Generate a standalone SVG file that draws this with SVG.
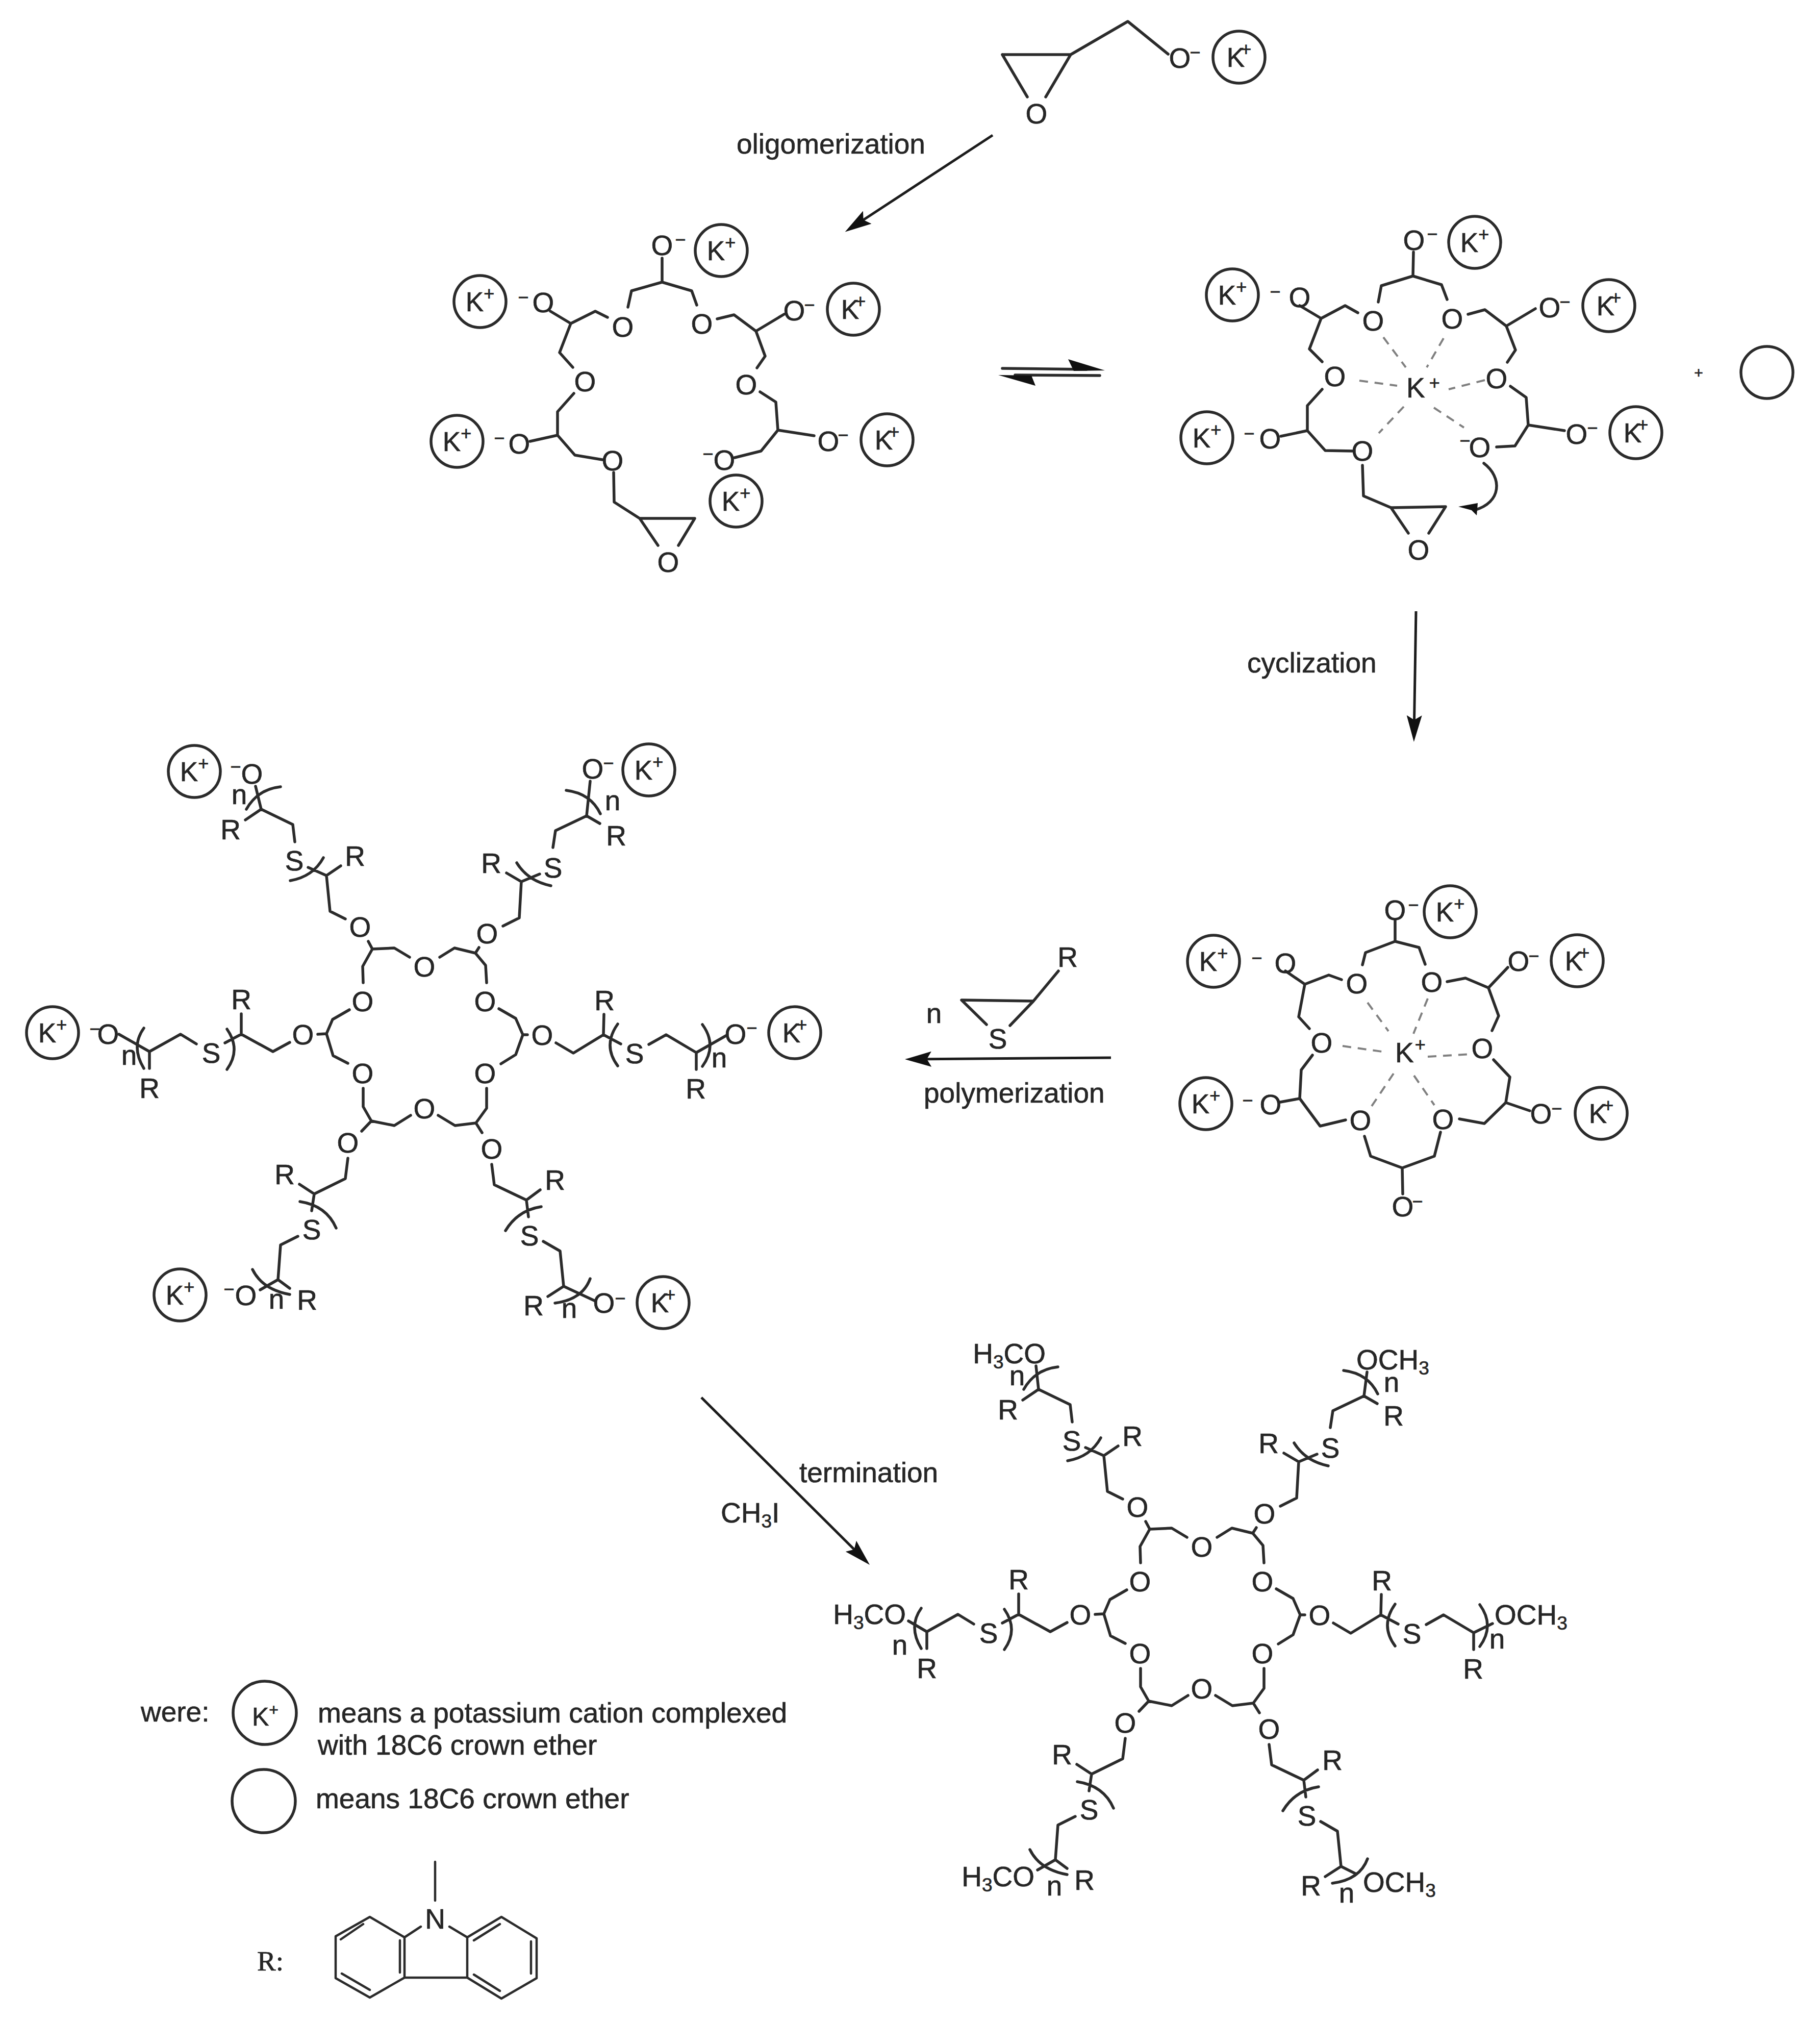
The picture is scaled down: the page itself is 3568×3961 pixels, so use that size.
<svg xmlns="http://www.w3.org/2000/svg" xmlns:xlink="http://www.w3.org/1999/xlink" width="3568" height="3961" viewBox="0 0 3568 3961">
<style>
text{font-family:"Liberation Sans",Arial,sans-serif;fill:#262626;stroke:#262626;stroke-width:.7}
.a{font-size:55px;text-anchor:middle}
.l{font-size:55px}
.e{font-size:55px;text-anchor:end}
.m{font-size:36px;text-anchor:middle}
.k{font-size:53px;text-anchor:middle}
.p{font-size:36px}
.s{font-size:37px}
.b{fill:none;stroke:#2b2b2b;stroke-width:5.5;stroke-linejoin:round;stroke-linecap:round}
.c{fill:none;stroke:#2b2b2b;stroke-width:5.5}
.d{fill:none;stroke:#808080;stroke-width:4;stroke-dasharray:17 13}
.ar{fill:none;stroke:#1c1c1c;stroke-width:5;marker-end:url(#ah)}
.h{fill:#111;stroke:none}
.r{font-family:"Liberation Serif","Times New Roman",serif;font-size:55px}
</style>
<defs>
<marker id="ah" markerUnits="userSpaceOnUse" viewBox="0 -15 54 30" refX="42" refY="0" markerWidth="54" markerHeight="30" orient="auto"><path class="h" d="M0,-15 L52,0 L0,15 L9,0Z"/></marker>
<path id="skel" class="b" d="M481,1607 L512,1586 L574,1616 L578,1650 M604,1700 L640,1716 L668,1697 M640,1716 L647,1786 L677,1801 M722,1845 L730,1860 L773,1858 L803,1876 M862,1876 L891,1858 L932,1868 L952,1892 L954,1926 M730,1860 L711,1894 L712,1926 M932,1868 L939,1857 M986,1815 L1018,1799 L1022,1728 L993,1711 M1022,1728 L1058,1713 M1084,1661 L1089,1628 L1150,1599 L1176,1614 M293,2094 L293,2061 L354,2027 L385,2046 M441,2044 L473,2027 L535,2061 L568,2043 M473,2027 L473,1987 M623,2027 L640,2026 M685,1979 L652,1998 L640,2026 L653,2069 L682,2084 M712,2133 L712,2169 L728,2197 L773,2206 L805,2186 M859,2186 L892,2206 L933,2201 L954,2172 L954,2133 M728,2197 L709,2217 M978,1977 L1011,1996 L1025,2028 L1011,2067 L982,2085 M1025,2028 L1034,2028 M1090,2044 L1124,2064 L1183,2028 L1184,1988 M1183,2028 L1217,2046 M1272,2047 L1306,2028 L1365,2063 L1365,2096 M682,2270 L677,2310 L616,2340 L587,2321 M616,2340 L611,2373 M584,2423 L550,2440 L545,2508 L568,2525 M545,2508 L510,2528 M933,2201 L945,2220 M964,2282 L969,2322 L1032,2352 L1059,2332 M1032,2352 L1036,2385 M1065,2433 L1098,2452 L1105,2521 L1074,2541 M550,1542 Q505,1547 483,1586 M569,1726 Q614,1718 634,1681 M1013,1691 Q1035,1727 1080,1736 M1110,1549 Q1158,1555 1177,1595 M282,2015 Q256,2051 282,2094 M445,2017 Q473,2057 445,2096 M1211,2007 Q1181,2049 1211,2089 M1377,2008 Q1407,2049 1377,2090 M588,2355 Q640,2363 659,2407 M495,2488 Q514,2527 568,2537 M1061,2365 Q1015,2372 991,2412 M1157,2506 Q1142,2547 1088,2554"/>
</defs>
<rect width="3568" height="3961" fill="#fff"/>

<g id="connectors">
<path class="ar" d="M1946,265 L1665,449"/>
<path class="ar" d="M2776,1198 L2772,1444"/>
<path class="ar" d="M2178,2073 L1784,2076"/>
<path class="ar" d="M1375,2739 L1698,3060"/>
<path class="b" d="M1965,722 L2130,724 M2156,736 L1990,735"/>
<path class="h" d="M2094,704 L2166,726 L2105,727Z M1957,735 L2030,756 L2022,736Z"/>
<path class="b" d="M2909,908 C2945,935 2945,985 2890,1000"/>
<path class="h" d="M2859,993 L2897,986 L2895,1010 L2885,1000Z"/>
</g>

<g id="monomer">
<path class="b" d="M1965,107 L2099,107 L2050,190 M1965,107 L2014,190 M2099,107 L2211,42 L2290,106"/>
<text class="a" x="2032" y="242">O</text>
<text class="a" x="2313" y="133">O</text><text class="m" x="2343" y="115">−</text>
<circle class="c" cx="2429" cy="112" r="51"/><text class="k" x="2429" y="131">K<tspan class="p" dx="-8" dy="-22">+</tspan></text>
</g>

<g id="label-oligomerization"><text class="l" x="1444" y="301">oligomerization</text></g>

<g id="open-chain">
<path class="b" d="M1298,506 L1298,553 L1238,570 L1231,602 M1298,553 L1356,570 L1366,598 M1079,610 L1119,634 L1167,610 L1191,622 M1119,634 L1097,691 L1123,720 M1125,771 L1093,807 L1093,853 L1039,865 M1093,853 L1127,892 L1181,901 M1203,926 L1204,984 L1254,1016 L1362,1016 L1330,1069 M1254,1016 L1290,1069 M1406,625 L1439,617 L1482,649 L1537,616 M1482,649 L1500,698 L1484,721 M1490,768 L1521,788 L1525,843 L1596,854 M1525,843 L1492,884 L1440,897"/>
<text class="a" x="1298" y="500">O</text><text class="m" x="1334" y="482">−</text>
<circle class="c" cx="1414" cy="491" r="51"/><text class="k" x="1414" y="510">K<tspan class="p" dy="-22">+</tspan></text>
<text class="a" x="1221" y="660">O</text><text class="a" x="1376" y="654">O</text>
<circle class="c" cx="941" cy="591" r="51"/><text class="k" x="941" y="610">K<tspan class="p" dy="-22">+</tspan></text>
<text class="m" x="1026" y="595">−</text><text class="a" x="1065" y="612">O</text>
<text class="a" x="1147" y="767">O</text>
<text class="a" x="1018" y="889">O</text><text class="m" x="979" y="871">−</text>
<circle class="c" cx="896" cy="865" r="51"/><text class="k" x="896" y="884">K<tspan class="p" dy="-22">+</tspan></text>
<text class="a" x="1201" y="922">O</text>
<text class="a" x="1310" y="1121">O</text>
<text class="a" x="1557" y="628">O</text><text class="m" x="1587" y="610">−</text>
<circle class="c" cx="1673" cy="606" r="51"/><text class="k" x="1673" y="625">K<tspan class="p" dx="-8" dy="-22">+</tspan></text>
<text class="a" x="1463" y="773">O</text>
<text class="a" x="1624" y="884">O</text><text class="m" x="1653" y="865">−</text>
<circle class="c" cx="1739" cy="862" r="51"/><text class="k" x="1739" y="881">K<tspan class="p" dx="-8" dy="-22">+</tspan></text>
<text class="a" x="1420" y="921">O</text><text class="m" x="1388" y="902">−</text>
<circle class="c" cx="1443" cy="982" r="51"/><text class="k" x="1443" y="1001">K<tspan class="p" dy="-22">+</tspan></text>
</g>

<g id="complex-open">
<path class="b" d="M2771,494 L2770,541 L2708,560 L2702,592 M2770,541 L2826,558 L2837,587 M2548,599 L2590,624 L2637,599 L2662,613 M2590,624 L2567,684 L2592,709 M2592,763 L2563,795 L2563,844 L2511,855 M2563,844 L2598,883 L2652,884 M2671,912 L2673,972 L2727,995 L2834,993 L2801,1045 M2727,995 L2761,1045 M2878,616 L2911,607 L2953,639 L3010,605 M2953,639 L2971,686 L2955,710 M2961,757 L2992,779 L2996,833 L3067,844 M2996,833 L2970,874 L2934,876"/>
<path class="d" d="M2712,661 L2756,720 M2830,663 L2797,720 M2665,746 L2739,756 M2911,745 L2840,763 M2752,797 L2703,849 M2811,799 L2870,838"/>
<text class="a" x="2772" y="490">O</text><text class="m" x="2808" y="471">−</text>
<circle class="c" cx="2891" cy="475" r="51"/><text class="k" x="2891" y="494">K<tspan class="p" dy="-22">+</tspan></text>
<text class="a" x="2692" y="648">O</text><text class="a" x="2847" y="644">O</text>
<circle class="c" cx="2416" cy="578" r="51"/><text class="k" x="2416" y="597">K<tspan class="p" dy="-22">+</tspan></text>
<text class="m" x="2500" y="584">−</text><text class="a" x="2548" y="602">O</text>
<text class="a" x="2617" y="757">O</text>
<text class="a" x="2490" y="879">O</text><text class="m" x="2449" y="862">−</text>
<circle class="c" cx="2366" cy="858" r="51"/><text class="k" x="2366" y="877">K<tspan class="p" dy="-22">+</tspan></text>
<text class="a" x="2671" y="903">O</text>
<text class="a" x="2781" y="1097">O</text>
<text class="a" x="3038" y="622">O</text><text class="m" x="3068" y="604">−</text>
<circle class="c" cx="3154" cy="599" r="51"/><text class="k" x="3154" y="618">K<tspan class="p" dx="-8" dy="-22">+</tspan></text>
<text class="a" x="2934" y="761">O</text>
<text class="a" x="3091" y="870">O</text><text class="m" x="3122" y="851">−</text>
<circle class="c" cx="3207" cy="848" r="51"/><text class="k" x="3207" y="867">K<tspan class="p" dx="-8" dy="-22">+</tspan></text>
<text class="a" x="2901" y="896">O</text><text class="m" x="2872" y="876">−</text>
<text class="l" x="2757" y="779">K<tspan class="p" dx="8" dy="-16">+</tspan></text>
</g>

<g id="crown-ether"><text x="3330" y="741" font-size="30" text-anchor="middle">+</text><circle class="c" cx="3464" cy="730" r="51"/></g>
<g id="label-cyclization"><text class="l" x="2445" y="1318">cyclization</text></g>

<g id="complex-cyclic">
<path class="b" d="M2735,1804 L2735,1845 L2677,1867 L2671,1891 M2735,1845 L2782,1857 L2794,1890 M2520,1903 L2558,1929 L2605,1911 L2630,1920 M2558,1929 L2546,1993 L2567,2016 M2573,2068 L2551,2097 L2548,2153 L2510,2160 M2548,2153 L2588,2207 L2638,2195 M2675,2227 L2687,2266 L2749,2289 L2812,2266 L2824,2219 M2749,2289 L2750,2340 M2837,1924 L2873,1917 L2918,1936 L2956,1896 M2918,1936 L2938,1991 L2925,2020 M2928,2077 L2960,2111 L2952,2161 L2999,2177 M2952,2161 L2910,2202 L2861,2193"/>
<path class="d" d="M2681,1965 L2722,2021 M2799,1957 L2771,2026 M2632,2050 L2709,2061 M2799,2071 L2883,2066 M2732,2104 L2689,2168 M2772,2108 L2812,2166"/>
<text class="a" x="2735" y="1803">O</text><text class="m" x="2771" y="1786">−</text>
<circle class="c" cx="2843" cy="1787" r="51"/><text class="k" x="2843" y="1806">K<tspan class="p" dy="-22">+</tspan></text>
<text class="a" x="2660" y="1947">O</text><text class="a" x="2807" y="1944">O</text>
<circle class="c" cx="2379" cy="1884" r="51"/><text class="k" x="2379" y="1903">K<tspan class="p" dy="-22">+</tspan></text>
<text class="m" x="2464" y="1890">−</text><text class="a" x="2520" y="1907">O</text>
<text class="a" x="2591" y="2063">O</text>
<text class="a" x="2491" y="2184">O</text><text class="m" x="2446" y="2169">−</text>
<circle class="c" cx="2364" cy="2163" r="51"/><text class="k" x="2364" y="2182">K<tspan class="p" dy="-22">+</tspan></text>
<text class="a" x="2667" y="2215">O</text><text class="a" x="2829" y="2213">O</text>
<text class="a" x="2750" y="2384">O</text><text class="m" x="2779" y="2367">−</text>
<text class="a" x="2977" y="1903">O</text><text class="m" x="3007" y="1886">−</text>
<circle class="c" cx="3092" cy="1883" r="51"/><text class="k" x="3092" y="1902">K<tspan class="p" dx="-8" dy="-22">+</tspan></text>
<text class="a" x="2906" y="2074">O</text>
<text class="a" x="3021" y="2202">O</text><text class="m" x="3052" y="2185">−</text>
<circle class="c" cx="3139" cy="2182" r="51"/><text class="k" x="3139" y="2201">K<tspan class="p" dx="-8" dy="-22">+</tspan></text>
<text class="l" x="2735" y="2082">K<tspan class="p" dx="2" dy="-22">+</tspan></text>
</g>

<g id="thiirane-reagent">
<path class="b" d="M1934,2008 L1885,1960 L2026,1962 L1980,2010 M2026,1962 L2075,1903"/>
<text class="a" x="1956" y="2055">S</text><text class="a" x="2093" y="1895">R</text><text class="a" x="1831" y="2005">n</text>
</g>
<g id="label-polymerization"><text class="l" x="1811" y="2161">polymerization</text></g>

<g id="polymer">
<use href="#skel" xlink:href="#skel"/>
<path class="b" d="M512,1586 L501,1541 M293,2061 L233,2027 M1365,2063 L1423,2030 M1150,1599 L1157,1531 M1105,2521 L1165,2549"/>
<g class="atoms">
<text class="a" x="706" y="1836">O</text><text class="a" x="955" y="1849">O</text><text class="a" x="832" y="1914">O</text><text class="a" x="711" y="1982">O</text><text class="a" x="951" y="1982">O</text><text class="a" x="594" y="2047">O</text><text class="a" x="1063" y="2048">O</text><text class="a" x="711" y="2123">O</text><text class="a" x="951" y="2123">O</text><text class="a" x="832" y="2192">O</text><text class="a" x="682" y="2259">O</text><text class="a" x="964" y="2271">O</text>
<text class="a" x="577" y="1706">S</text><text class="a" x="1084" y="1720">S</text><text class="a" x="414" y="2083">S</text><text class="a" x="1244" y="2084">S</text><text class="a" x="611" y="2429">S</text><text class="a" x="1038" y="2441">S</text>
<text class="a" x="452" y="1645">R</text><text class="a" x="696" y="1697">R</text><text class="a" x="963" y="1711">R</text><text class="a" x="1208" y="1657">R</text><text class="a" x="473" y="1978">R</text><text class="a" x="1185" y="1980">R</text><text class="a" x="293" y="2152">R</text><text class="a" x="1364" y="2153">R</text><text class="a" x="558" y="2321">R</text><text class="a" x="1088" y="2332">R</text><text class="a" x="602" y="2567">R</text><text class="a" x="1046" y="2578">R</text>
</g>
<text class="a" x="469" y="1576">n</text><text class="a" x="1201" y="1588">n</text><text class="a" x="253" y="2087">n</text><text class="a" x="1410" y="2092">n</text><text class="a" x="542" y="2565">n</text><text class="a" x="1116" y="2583">n</text>
<circle class="c" cx="381" cy="1512" r="51"/><text class="k" x="381" y="1531">K<tspan class="p" dy="-22">+</tspan></text>
<text class="m" x="462" y="1515">−</text><text class="a" x="494" y="1536">O</text>
<text class="a" x="1162" y="1526">O</text><text class="m" x="1193" y="1508">−</text>
<circle class="c" cx="1272" cy="1509" r="51"/><text class="k" x="1272" y="1528">K<tspan class="p" dy="-22">+</tspan></text>
<circle class="c" cx="103" cy="2024" r="51"/><text class="k" x="103" y="2043">K<tspan class="p" dy="-22">+</tspan></text>
<text class="m" x="186" y="2029">−</text><text class="a" x="212" y="2046">O</text>
<text class="a" x="1442" y="2046">O</text><text class="m" x="1474" y="2027">−</text>
<circle class="c" cx="1558" cy="2024" r="51"/><text class="k" x="1558" y="2043">K<tspan class="p" dx="-8" dy="-22">+</tspan></text>
<circle class="c" cx="353" cy="2538" r="51"/><text class="k" x="353" y="2557">K<tspan class="p" dy="-22">+</tspan></text>
<text class="m" x="449" y="2539">−</text><text class="a" x="482" y="2558">O</text>
<text class="a" x="1184" y="2573">O</text><text class="m" x="1216" y="2557">−</text>
<circle class="c" cx="1300" cy="2553" r="51"/><text class="k" x="1300" y="2572">K<tspan class="p" dx="-8" dy="-22">+</tspan></text>
</g>

<g id="label-termination"><text class="l" x="1567" y="2905">termination</text><text class="l" x="1413" y="2984">CH<tspan class="s" dy="10">3</tspan><tspan dy="-10">I</tspan></text></g>

<g id="product">
<g transform="translate(1524,1137)">
<use href="#skel" xlink:href="#skel"/>
<text class="a" x="706" y="1836">O</text><text class="a" x="955" y="1849">O</text><text class="a" x="832" y="1914">O</text><text class="a" x="711" y="1982">O</text><text class="a" x="951" y="1982">O</text><text class="a" x="594" y="2047">O</text><text class="a" x="1063" y="2048">O</text><text class="a" x="711" y="2123">O</text><text class="a" x="951" y="2123">O</text><text class="a" x="832" y="2192">O</text><text class="a" x="682" y="2259">O</text><text class="a" x="964" y="2271">O</text>
<text class="a" x="577" y="1706">S</text><text class="a" x="1084" y="1720">S</text><text class="a" x="414" y="2083">S</text><text class="a" x="1244" y="2084">S</text><text class="a" x="611" y="2429">S</text><text class="a" x="1038" y="2441">S</text>
<text class="a" x="452" y="1645">R</text><text class="a" x="696" y="1697">R</text><text class="a" x="963" y="1711">R</text><text class="a" x="1208" y="1657">R</text><text class="a" x="473" y="1978">R</text><text class="a" x="1185" y="1980">R</text><text class="a" x="293" y="2152">R</text><text class="a" x="1364" y="2153">R</text><text class="a" x="558" y="2321">R</text><text class="a" x="1088" y="2332">R</text><text class="a" x="602" y="2567">R</text><text class="a" x="1046" y="2578">R</text>
</g>
<path class="b" d="M2036,2723 L2031,2677 M1781,3177 L1817,3198 M2889,3200 L2926,3182 M2674,2736 L2680,2689 M2629,3658 L2659,3673"/>
<text class="e" x="2050" y="2672">H<tspan class="s" dy="10">3</tspan><tspan dy="-10">CO</tspan></text>
<text class="l" x="2659" y="2684">OCH<tspan class="s" dy="10">3</tspan></text>
<text class="e" x="1776" y="3183">H<tspan class="s" dy="10">3</tspan><tspan dy="-10">CO</tspan></text>
<text class="l" x="2930" y="3184">OCH<tspan class="s" dy="10">3</tspan></text>
<text class="e" x="2028" y="3697">H<tspan class="s" dy="10">3</tspan><tspan dy="-10">CO</tspan></text>
<text class="l" x="2672" y="3708">OCH<tspan class="s" dy="10">3</tspan></text>
<text class="a" x="1994" y="2715">n</text><text class="a" x="2728" y="2728">n</text><text class="a" x="1764" y="3243">n</text><text class="a" x="2935" y="3231">n</text><text class="a" x="2067" y="3715">n</text><text class="a" x="2640" y="3729">n</text>
</g>

<g id="legend">
<text class="l" x="276" y="3374">were:</text>
<circle class="c" cx="519" cy="3357" r="62"/>
<text x="494" y="3382" font-size="50">K<tspan font-size="32" dy="-20">+</tspan></text>
<text class="l" x="623" y="3376">means a potassium cation complexed</text>
<text class="l" x="623" y="3439">with 18C6 crown ether</text>
<circle class="c" cx="517" cy="3530" r="62"/>
<text class="l" x="619" y="3544">means 18C6 crown ether</text>
</g>

<g id="carbazole">
<path class="b" style="stroke-width:4.5" d="M853,3649 L853,3725 M825,3776 L793,3797 L725,3757 L658,3795 L658,3877 L725,3915 L793,3876 L793,3797 M793,3876 L916,3876 M881,3776 L916,3797 L983,3757 L1052,3799 L1052,3877 L983,3917 L916,3876 L916,3797 M712,3771 L668,3801 M784,3803 L784,3866 M670,3868 L725,3900 M929,3803 L980,3771 M1041,3805 L1041,3868 M929,3870 L980,3902"/>
<text class="a" x="853" y="3780">N</text>
<text class="r" x="504" y="3862">R:</text>
</g>
</svg>
